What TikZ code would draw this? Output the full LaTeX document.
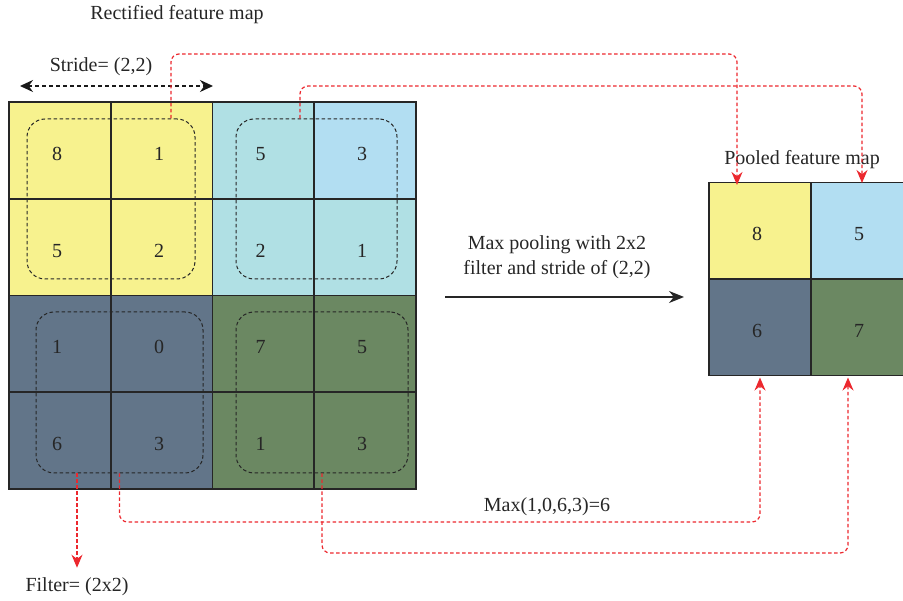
\documentclass[tikz,border=0pt]{standalone}
\usepackage{fontspec}
\setmainfont{Liberation Serif}
\usetikzlibrary{arrows.meta}
\definecolor{cY}{RGB}{247,242,142}
\definecolor{cT}{RGB}{176,224,228}
\definecolor{cB}{RGB}{178,222,242}
\definecolor{cS}{RGB}{98,117,137}
\definecolor{cG}{RGB}{107,136,98}
\definecolor{cR}{RGB}{236,40,46}
\definecolor{cL}{RGB}{38,38,38}
\begin{document}
\begin{tikzpicture}[x=1pt,y=-1pt,
  every node/.style={font=\fontsize{20}{25}\selectfont, text=cL},
  cell/.style={draw=cL, line width=1.5pt, minimum width=101.75pt, minimum height=96.75pt, inner sep=0pt,
    text height=19.5pt, text depth=0pt, execute at end node={\hspace{6pt}}},
  pcell/.style={cell, minimum width=102pt, minimum height=96.5pt},
  win/.style={draw=black!85, line width=1pt, dash pattern=on 3.5pt off 2.5pt, rounded corners=18pt, inner sep=0pt},
  redline/.style={draw=cR, line width=1.2pt, dash pattern=on 3.5pt off 2.5pt, rounded corners=8pt},
  redtip/.style={-{Stealth[length=13pt,width=11pt]}},
  lbl/.style={inner sep=0pt}]
\useasboundingbox (0,0) rectangle (903,601);
\clip (0,0) rectangle (903,601);

% rectified feature map
\node[cell, fill=cY] (c11) at (60,150.5) {8};
\node[cell, fill=cY] (c12) at (162,150.5) {1};
\node[cell, fill=cT] (c13) at (263.5,150.5) {5};
\node[cell, fill=cB] (c14) at (365,150.5) {3};
\node[cell, fill=cY] (c21) at (60,247.5) {5};
\node[cell, fill=cY] (c22) at (162,247.5) {2};
\node[cell, fill=cT] (c23) at (263.5,247.5) {2};
\node[cell, fill=cT] (c24) at (365,247.5) {1};
\node[cell, fill=cS] (c31) at (60,344) {1};
\node[cell, fill=cS] (c32) at (162,344) {0};
\node[cell, fill=cG] (c33) at (263.5,344) {7};
\node[cell, fill=cG] (c34) at (365,344) {5};
\node[cell, fill=cS] (c41) at (60,440.5) {6};
\node[cell, fill=cS] (c42) at (162,440.5) {3};
\node[cell, fill=cG] (c43) at (263.5,440.5) {1};
\node[cell, fill=cG] (c44) at (365,440.5) {3};

% pooling windows
\node[win, minimum width=168pt, minimum height=160pt] (wTL) at (111,199) {};
\node[win, minimum width=161pt, minimum height=160pt] (wTR) at (316.5,199) {};
\node[win, minimum width=167pt, minimum height=161pt] (wBL) at (119.5,392.5) {};
\node[win, minimum width=172pt, minimum height=161pt] (wBR) at (322,392.5) {};

% pooled feature map
\node[pcell, fill=cY] (p11) at (760,231) {8};
\node[pcell, fill=cB] (p12) at (862,231) {5};
\node[pcell, fill=cS] (p21) at (760,327.5) {6};
\node[pcell, fill=cG] (p22) at (862,327.5) {7};

% labels
\node[lbl] (title) at (177,15) {Rectified feature map};
\node[lbl] (stride) at (101,67) {Stride= (2,2)};
\node[lbl, align=center] (mp) at (557,257.5) {Max pooling with 2x2\\filter and stride of (2,2)};
\node[lbl] (pooled) at (802,160) {Pooled feature map};
\node[lbl] (maxlbl) at (547,507) {Max(1,0,6,3)=6};
\node[lbl] (filt) at (77,587) {Filter= (2x2)};

% stride arrow
\coordinate (s1) at (20,86);
\coordinate (s2) at (213,86);
\draw[black!90, line width=1.4pt, dash pattern=on 4pt off 3pt,
  {Stealth[length=13pt,width=12pt]}-{Stealth[length=13pt,width=12pt]}] (s1) -- (s2);

% main arrow
\coordinate (m1) at (445,297);
\coordinate (m2) at (684,297);
\draw[cL, line width=1.4pt, -{Stealth[length=15pt,width=12pt]}] (m1) -- (m2);

% red connectors
\coordinate (r1) at (737,54);
\coordinate (r2) at (862,86);
\coordinate (r3) at (760,522);
\coordinate (r4) at (848,553);
\draw[redline, redtip] ([xshift=60pt]wTL.north) |- (r1) -- ([xshift=-23pt,yshift=-3pt]p11.north);
\draw[redline, redtip] ([xshift=-16.5pt]wTR.north) |- (r2) -- ([yshift=-1pt]p12.north);
\draw[redline, redtip] (wBL.south) |- (r3) -- ([yshift=-1pt]p21.south);
\draw[redline, redtip] (wBR.south) |- (r4) -- ([xshift=-14pt,yshift=-1pt]p22.south);
\draw[redline, redtip] ([xshift=-42.5pt]wBL.south) -- ([yshift=10pt]filt.north);
\end{tikzpicture}
\end{document}
